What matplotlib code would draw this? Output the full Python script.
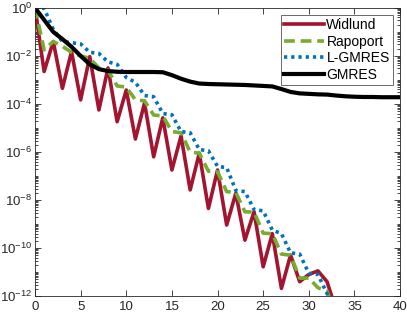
import matplotlib
matplotlib.use("Agg")
import matplotlib.pyplot as plt
import matplotlib.ticker as mticker
import numpy as np

plt.rcParams['font.family'] = ['Liberation Sans', 'DejaVu Sans']
plt.rcParams['mathtext.fontset'] = 'custom'
plt.rcParams['mathtext.rm'] = 'Liberation Sans'

iters = list(range(0, 34))
widlund_log = [0, -2.65, -1.40, -3.35, -1.82, -3.83, -2.03, -4.25, -2.5, -4.74,
               -3.42, -5.46, -3.96, -6.2, -4.58, -6.75, -5.33, -7.58, -6.05, -8.35,
               -6.75, -9.04, -7.72, -9.67, -8.49, -10.78, -9.4, -11.68, -10.29, -11.4,
               -11.1, -10.95, -11.4, -12.6]
rapoport_log = [0, -1.75, -1.40, -1.6, -1.85, -2.0, -2.1, -2.5, -2.6, -3.25,
                -3.3, -3.83, -3.87, -4.46, -4.5, -5.15, -5.2, -6.0, -6.05, -6.8,
                -6.82, -7.65, -7.68, -8.49, -8.5, -9.38, -9.4, -10.25, -10.3, -11.25,
                -11.25, -11.65, -11.8, -12.8]
lgmres_log = [0, -0.02, -0.9, -1.4, -1.45, -1.5, -1.85, -1.9, -2.25, -2.35,
              -2.9, -3.1, -3.65, -3.7, -4.4, -4.45, -5.15, -5.2, -5.9, -5.95,
              -6.6, -6.65, -7.6, -7.65, -8.4, -8.45, -9.25, -9.4, -10.2, -10.25,
              -11.05, -11.1, -11.9, -12.6]
gmres_iters = list(range(0, 41))
gmres_log = [0, -0.5, -1.0, -1.3, -1.62, -2.0, -2.35, -2.55, -2.63, -2.66,
             -2.67, -2.67, -2.67, -2.67, -2.68, -2.8, -2.95, -3.07, -3.15, -3.17,
             -3.18, -3.19, -3.2, -3.21, -3.23, -3.25, -3.27, -3.38, -3.5, -3.56,
             -3.58, -3.6, -3.61, -3.65, -3.68, -3.7, -3.71, -3.71, -3.72, -3.72, -3.72]

fig = plt.figure(figsize=(4.07, 3.15), dpi=100)
ax = fig.add_axes([0.086, 0.06, 0.897, 0.915])

ax.semilogy(iters, 10.0 ** np.array(widlund_log), color='#A2142F', lw=2.6, label='Widlund')
ax.semilogy(iters, 10.0 ** np.array(rapoport_log), color='#77AC30', lw=2.6,
            linestyle=(0, (3, 1.6)), label='Rapoport')
ax.semilogy(iters, 10.0 ** np.array(lgmres_log), color='#0072BD', lw=2.6,
            linestyle=(0, (0.9, 1.1)), label='L-GMRES')
ax.semilogy(gmres_iters, 10.0 ** np.array(gmres_log), color='black', lw=3.0, label='GMRES')

ax.set_xlim(0, 40)
ax.set_ylim(1e-12, 1e0)
ax.set_xticks([0, 5, 10, 15, 20, 25, 30, 35, 40])
ax.yaxis.set_major_locator(mticker.FixedLocator([10.0 ** k for k in range(-12, 1, 2)]))
ax.yaxis.set_minor_locator(mticker.LogLocator(base=10, subs=np.arange(1, 10), numticks=100))
ax.yaxis.set_minor_formatter(mticker.NullFormatter())
ax.tick_params(which='both', direction='in', top=True, right=True, colors='#262626',
               labelsize=9.5, width=0.6)
ax.tick_params(axis='y', pad=2)
ax.tick_params(which='major', length=4)
ax.tick_params(which='minor', length=2)
for s in ax.spines.values():
    s.set_linewidth(0.6)
    s.set_color('#262626')

leg = ax.legend(loc='upper right', fontsize=10, frameon=True, fancybox=False,
                edgecolor='#262626', borderpad=0.25, labelspacing=0.18,
                handlelength=2.9, handletextpad=0.15, borderaxespad=0.5)
leg.get_frame().set_linewidth(0.6)

fig.savefig('out.png', dpi=100)
